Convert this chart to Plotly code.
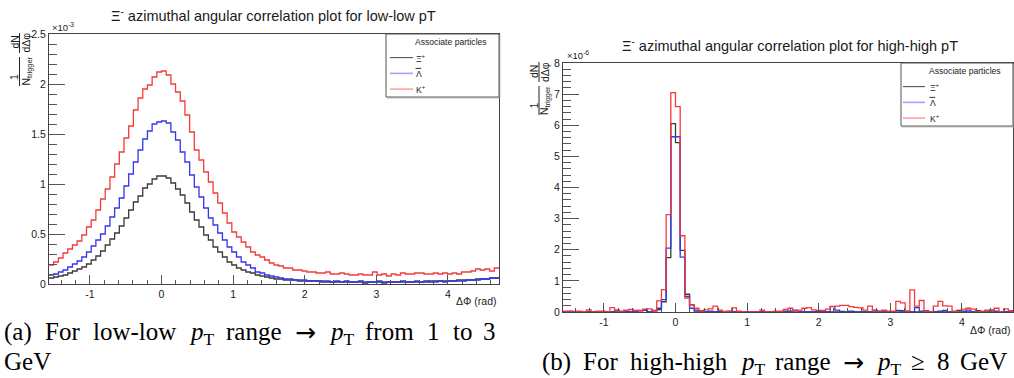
import numpy as np
import plotly.graph_objects as go

W, H = 1014, 378
N_BINS = 96
PHI_MIN, PHI_MAX = -np.pi / 2, 3 * np.pi / 2

# ---------------- data ----------------
# low-low pT, units of 1e-3
low_xi = [0.06, 0.07, 0.08, 0.09, 0.11, 0.13, 0.15, 0.17, 0.20, 0.24,
          0.28, 0.33, 0.39, 0.45, 0.51, 0.58, 0.66, 0.74, 0.82, 0.88,
          0.96, 1.00, 1.05, 1.08, 1.08, 1.06, 1.01, 0.95, 0.89, 0.81,
          0.72, 0.64, 0.57, 0.49, 0.44, 0.37, 0.32, 0.27, 0.22, 0.19,
          0.16, 0.14, 0.12, 0.11, 0.09, 0.08, 0.07, 0.06, 0.05, 0.05,
          0.04, 0.04, 0.04, 0.03, 0.03, 0.03, 0.03, 0.03, 0.02, 0.02,
          0.02, 0.02, 0.02, 0.02, 0.02, 0.02, 0.02, 0.01, 0.02, 0.02,
          0.02, 0.01, 0.02, 0.02, 0.02, 0.02, 0.02, 0.02, 0.02, 0.02,
          0.03, 0.02, 0.03, 0.03, 0.03, 0.03, 0.03, 0.04, 0.04, 0.04,
          0.04, 0.05, 0.05, 0.05, 0.06, 0.06]
low_lambda = [0.09, 0.10, 0.12, 0.14, 0.17, 0.20, 0.23, 0.27, 0.32, 0.38,
              0.44, 0.50, 0.58, 0.67, 0.76, 0.86, 0.98, 1.10, 1.22, 1.34,
              1.45, 1.53, 1.60, 1.62, 1.63, 1.61, 1.52, 1.44, 1.32, 1.22,
              1.09, 0.97, 0.87, 0.76, 0.66, 0.59, 0.51, 0.44, 0.37, 0.32,
              0.27, 0.22, 0.19, 0.16, 0.12, 0.11, 0.09, 0.08, 0.07, 0.06,
              0.05, 0.05, 0.04, 0.04, 0.04, 0.03, 0.03, 0.03, 0.03, 0.03,
              0.02, 0.03, 0.02, 0.03, 0.02, 0.02, 0.03, 0.02, 0.02, 0.02,
              0.03, 0.02, 0.02, 0.02, 0.02, 0.03, 0.02, 0.02, 0.03, 0.02,
              0.02, 0.03, 0.02, 0.03, 0.02, 0.03, 0.03, 0.03, 0.03, 0.04,
              0.04, 0.04, 0.05, 0.05, 0.06, 0.06]
low_kaon = [0.19, 0.22, 0.26, 0.31, 0.35, 0.39, 0.43, 0.49, 0.57, 0.64,
            0.74, 0.85, 0.95, 1.07, 1.20, 1.32, 1.46, 1.58, 1.74, 1.86,
            1.95, 1.99, 2.07, 2.12, 2.13, 2.09, 2.00, 1.92, 1.83, 1.69,
            1.52, 1.34, 1.24, 1.12, 1.02, 0.91, 0.81, 0.71, 0.61, 0.52,
            0.47, 0.42, 0.37, 0.32, 0.29, 0.27, 0.24, 0.21, 0.19, 0.18,
            0.16, 0.16, 0.14, 0.14, 0.13, 0.12, 0.12, 0.11, 0.11, 0.12,
            0.10, 0.10, 0.11, 0.10, 0.09, 0.09, 0.10, 0.09, 0.09, 0.12,
            0.09, 0.10, 0.08, 0.10, 0.09, 0.11, 0.10, 0.10, 0.11, 0.11,
            0.10, 0.10, 0.11, 0.10, 0.11, 0.10, 0.11, 0.10, 0.12, 0.12,
            0.13, 0.15, 0.14, 0.15, 0.13, 0.16]

# high-high pT, units of 1e-6
high_xi = [0.00, 0.02, 0.00, 0.00, 0.00, 0.00, 0.00, 0.00, 0.00, 0.00,
           0.00, 0.03, 0.00, 0.00, 0.00, 0.00, 0.05, 0.06, 0.00, 0.05,
           0.08, 0.33, 1.75, 6.05, 5.44, 1.98, 0.57, 0.23, 0.03, 0.00,
           0.00, 0.00, 0.00, 0.02, 0.00, 0.00, 0.00, 0.00, 0.00, 0.00,
           0.00, 0.00, 0.00, 0.00, 0.00, 0.00, 0.00, 0.00, 0.03, 0.00,
           0.00, 0.00, 0.00, 0.00, 0.02, 0.00, 0.00, 0.00, 0.00, 0.02,
           0.00, 0.03, 0.00, 0.00, 0.00, 0.00, 0.00, 0.02, 0.03, 0.00,
           0.00, 0.05, 0.00, 0.03, 0.00, 0.00, 0.00, 0.03, 0.00, 0.00,
           0.03, 0.00, 0.00, 0.00, 0.05, 0.00, 0.00, 0.00, 0.04, 0.00,
           0.03, 0.00, 0.00, 0.00, 0.00, 0.00]
high_lambda = [0.00, 0.00, 0.02, 0.00, 0.00, 0.00, 0.00, 0.00, 0.00, 0.00,
               0.00, 0.06, 0.00, 0.03, 0.00, 0.00, 0.04, 0.05, 0.00, 0.03,
               0.12, 0.40, 2.05, 5.63, 5.63, 1.76, 0.50, 0.12, 0.06, 0.03,
               0.00, 0.03, 0.00, 0.00, 0.00, 0.02, 0.00, 0.00, 0.00, 0.00,
               0.00, 0.00, 0.00, 0.00, 0.00, 0.00, 0.00, 0.03, 0.00, 0.06,
               0.00, 0.00, 0.00, 0.00, 0.00, 0.04, 0.00, 0.17, 0.06, 0.00,
               0.00, 0.00, 0.00, 0.00, 0.00, 0.00, 0.06, 0.03, 0.00, 0.00,
               0.00, 0.00, 0.04, 0.00, 0.00, 0.14, 0.03, 0.04, 0.00, 0.00,
               0.00, 0.05, 0.00, 0.00, 0.00, 0.03, 0.06, 0.00, 0.00, 0.00,
               0.05, 0.06, 0.03, 0.00, 0.00, 0.00]
high_kaon = [0.03, 0.03, 0.00, 0.03, 0.00, 0.07, 0.00, 0.03, 0.03, 0.00,
             0.14, 0.05, 0.03, 0.06, 0.08, 0.05, 0.04, 0.09, 0.10, 0.04,
             0.36, 0.72, 3.13, 7.05, 6.60, 2.45, 0.45, 0.22, 0.12, 0.04,
             0.07, 0.10, 0.19, 0.06, 0.02, 0.03, 0.13, 0.03, 0.00, 0.00,
             0.00, 0.00, 0.06, 0.00, 0.00, 0.03, 0.03, 0.08, 0.12, 0.03,
             0.06, 0.12, 0.14, 0.07, 0.05, 0.05, 0.09, 0.18, 0.19, 0.21,
             0.21, 0.17, 0.15, 0.13, 0.06, 0.19, 0.03, 0.00, 0.06, 0.03,
             0.03, 0.34, 0.29, 0.03, 0.71, 0.19, 0.37, 0.03, 0.00, 0.19,
             0.34, 0.20, 0.19, 0.03, 0.00, 0.09, 0.12, 0.09, 0.00, 0.03,
             0.05, 0.06, 0.12, 0.00, 0.10, 0.04]

series_names = ["Ξ<sup>+</sup>", "Λ", "K<sup>+</sup>"]
low_ticks = [0, 0.5, 1, 1.5, 2, 2.5]
low_ticktext = ["0", "0.5", "1", "1.5", "2", "2.5"]
high_ticks = [0, 1, 2, 3, 4, 5, 6, 7, 8]
x_ticks = [-1, 0, 1, 2, 3, 4]

# ---------------- helpers ----------------
edges = np.linspace(PHI_MIN, PHI_MAX, N_BINS + 1)


def PX(x):
    return x / W


def PY(y):
    return 1 - y / H


LINE_COLORS = ["#3a3a3a", "#3434f0", "#f53a3a"]
LEG_COLORS = ["#444444", "#a0a0ff", "#ffa0a0"]
SANS = "Liberation Sans"
SERIF = "Liberation Serif"
TXT = "#1a1a1a"

fig = go.Figure()


def add_hist(vals, color, xa, ya):
    fig.add_trace(go.Scatter(
        x=edges, y=list(vals) + [vals[-1]], mode="lines",
        line=dict(color=color, width=1.3, shape="hv"),
        xaxis=xa, yaxis=ya, showlegend=False, hoverinfo="skip"))


for vals, col in zip([low_xi, low_lambda, low_kaon], LINE_COLORS):
    add_hist(vals, col, "x", "y")
for vals, col in zip([high_xi, high_lambda, high_kaon], LINE_COLORS):
    add_hist(vals, col, "x2", "y2")

# frames (pixels)
L = dict(x0=49, x1=499, y0=34, y1=284)
R = dict(x0=563, x1=1013, y0=63, y1=312)

axcommon = dict(showgrid=False, zeroline=False, showline=True, mirror=True,
                automargin=False,
                linecolor="#444", linewidth=1, ticks="inside",
                tickcolor="#555", tickfont=dict(family=SANS, size=10.5, color=TXT))

xaxis_common = dict(axcommon, range=[PHI_MIN, PHI_MAX], tickvals=x_ticks,
                    ticktext=[str(t) for t in x_ticks], ticklen=9,
                    minor=dict(ticks="inside", ticklen=4.5, dtick=0.2, tick0=0,
                               tickcolor="#555", showgrid=False))

fig.update_layout(
    width=W, height=H, autosize=False,
    margin=dict(l=0, r=0, t=0, b=0, pad=0),
    paper_bgcolor="white", plot_bgcolor="white",
    xaxis=dict(xaxis_common, domain=[PX(L["x0"]), PX(L["x1"])], anchor="y"),
    yaxis=dict(axcommon, domain=[PY(L["y1"]), PY(L["y0"])], anchor="x",
               range=[0, 2.5], tickvals=low_ticks, ticktext=low_ticktext,
               ticklen=16,
               minor=dict(ticks="inside", ticklen=8, dtick=0.1, tick0=0,
                          tickcolor="#555", showgrid=False)),
    xaxis2=dict(xaxis_common, domain=[PX(R["x0"]), PX(R["x1"])], anchor="y2"),
    yaxis2=dict(axcommon, domain=[PY(R["y1"]), PY(R["y0"])], anchor="x2",
                range=[0, 8], tickvals=high_ticks,
                ticktext=[str(t) for t in high_ticks], ticklen=16,
                minor=dict(ticks="inside", ticklen=8, dtick=0.2, tick0=0,
                           tickcolor="#555", showgrid=False)),
)

ann = []
shapes = []


def text(x, y, s, size, family=SANS, xanchor="center", yanchor="middle",
         angle=0, color=TXT):
    ann.append(dict(x=PX(x), y=PY(y), xref="paper", yref="paper", text=s,
                    showarrow=False, xanchor=xanchor, yanchor=yanchor,
                    textangle=angle, font=dict(family=family, size=size, color=color),
                    borderpad=0))


def line(x0, y0, x1, y1, color="#444", width=1):
    shapes.append(dict(type="line", xref="paper", yref="paper",
                       x0=PX(x0), y0=PY(y0), x1=PX(x1), y1=PY(y1),
                       line=dict(color=color, width=width), layer="above"))


# titles
text(273, 15, "Ξ<sup>-</sup> azimuthal angular correlation plot for low-low pT", 14.5)
text(790, 45, "Ξ<sup>-</sup> azimuthal angular correlation plot for high-high pT", 14.5)

# exponent labels
text(51, 27, "×10<sup>-3</sup>", 9.5, xanchor="left")
text(566, 55, "×10<sup>-6</sup>", 9.5, xanchor="left")

# x titles
text(497, 301, "ΔΦ (rad)", 10.5, xanchor="right")
text(1011, 330, "ΔΦ (rad)", 10.5, xanchor="right")


# y titles as stacked fractions (rotated)
def ytitle(xc, ytop):
    text(xc - 5.5, ytop + 9.5, "dN", 10.5, angle=-90)
    text(xc + 6, ytop + 10, "dΔφ", 10.5, angle=-90)
    line(xc, ytop, xc, ytop + 20, color="#222")
    text(xc - 5.5, ytop + 44, "1", 10.5, angle=-90)
    text(xc + 6.5, ytop + 38.5, "N<sub>trigger</sub>", 10.5, angle=-90)
    line(xc, ytop + 24, xc, ytop + 53, color="#222")


ytitle(19.5, 33)
ytitle(539, 62)


# legends
def legend(x0, x1, y0, y1, line_x0, line_x1, label_x):
    shapes.append(dict(type="rect", xref="paper", yref="paper",
                       x0=PX(x0), x1=PX(x1), y0=PY(y1), y1=PY(y0),
                       line=dict(color="#555", width=1), fillcolor="white",
                       layer="above"))
    line(x0 + 1, y1 + 0.8, x1 + 0.8, y1 + 0.8, color="#999", width=1)
    line(x1 + 0.8, y0 + 1, x1 + 0.8, y1 + 0.8, color="#999", width=1)
    row = (y1 - y0) / 4.0
    text(label_x - 1, y0 + row * 0.5, "Associate particles", 8.6, xanchor="left")
    for k, (name, col) in enumerate(zip(series_names, LEG_COLORS)):
        yc = y0 + row * (k + 1.5)
        line(line_x0, yc, line_x1, yc, color=col, width=1.6 if k else 1)
        text(label_x, yc + 0.5, name, 8.6, xanchor="left")
        if k == 1:  # overline of the anti-Lambda
            line(label_x + 0.5, yc - 5, label_x + 6.2, yc - 5, color=TXT, width=0.9)


legend(386, 499, 34, 97, 390, 413, 415)
legend(901, 1013, 63, 126, 903, 925, 929)

# captions (serif, justified words)
PT = "<i>p</i><sub>T</sub>"
ARROW = "<span style='font-family:DejaVu Sans'>→</span>"
CAP = 25
words_a = [("(a)", 1.110), ("For", 1.389), ("low-low", 3.333), (PT, 0.928),
           ("range", 2.221), (ARROW, 0.84), (PT, 0.928), ("from", 1.944),
           ("1", 0.5), ("to", 0.778), ("3", 0.5)]
words_b = [("(b)", 1.166), ("For", 1.389), ("high-high", 3.889), (PT, 0.928),
           ("range", 2.221), (ARROW, 0.84), (PT, 0.928), ("≥", 0.549),
           ("8", 0.5), ("GeV", 1.888)]


def place_words(words, xl, xr, ytop):
    tot = sum(w for _, w in words) * CAP
    gap = (xr - xl - tot) / (len(words) - 1)
    x = xl
    for i, (s, w) in enumerate(words):
        if i == len(words) - 1:
            text(xr, ytop, s, CAP, family=SERIF, xanchor="right", yanchor="top",
                 color="#000")
        else:
            text(x, ytop, s, CAP, family=SERIF, xanchor="left", yanchor="top",
                 color="#000")
        x += w * CAP + gap


place_words(words_a, 3, 497, 317)
text(3, 347, "GeV", CAP, family=SERIF, xanchor="left", yanchor="top", color="#000")
place_words(words_b, 541, 1008, 347)

fig.update_layout(annotations=ann, shapes=shapes)
fig.write_html(
    "out.html",
    config={"displayModeBar": False, "staticPlot": True},
    post_script="document.body.style.margin='0px';document.body.style.padding='0px';"
                "document.documentElement.style.overflow='hidden';",
)
